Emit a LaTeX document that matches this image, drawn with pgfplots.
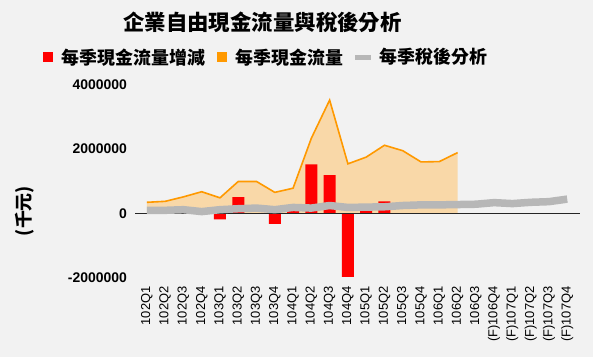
\documentclass[border=0pt]{standalone}
\usepackage{fontspec}
\setmainfont{Liberation Sans}
\newfontfamily\cjk{Noto Sans CJK TC}
\usepackage{pgfplots}
\pgfplotsset{compat=1.18}
\definecolor{bg}{HTML}{F2F2F2}
\definecolor{cfred}{HTML}{FF0000}
\definecolor{cforange}{HTML}{FF9900}
\definecolor{cfpeach}{HTML}{F9D8A8}
\definecolor{cfgray}{HTML}{B7B7B7}
\begin{document}
\begin{tikzpicture}[x=1bp,y=1bp]
\fill[bg] (0,0) rectangle (593,357);
\useasboundingbox (0,0) rectangle (593,357);
\node[font=\cjk\bfseries\fontsize{21.5}{22}\selectfont] at (262.5,335) {企業自由現金流量與稅後分析};
\node[font=\cjk\bfseries\fontsize{18}{18}\selectfont, rotate=90] at (25,146) {(千元)};
\begin{axis}[
  at={(135bp,79.7bp)}, anchor=south west,
  scale only axis, width=445bp, height=192.3bp,
  xmin=-0.65, xmax=23.7, ymin=-2000000, ymax=4000000,
  axis line style={draw=none}, major tick length=0pt,
  ytick={-2000000,0,2000000,4000000},
  scaled y ticks=false,
  yticklabel style={font=\bfseries\fontsize{14}{14}\selectfont, inner sep=0pt,
     /pgf/number format/.cd, fixed, 1000 sep={}, assume math mode=true},
  yticklabel shift=8bp,
  xtick={0,...,23},
  xticklabels={102Q1,102Q2,102Q3,102Q4,103Q1,103Q2,103Q3,103Q4,104Q1,104Q2,104Q3,104Q4,105Q1,105Q2,105Q3,105Q4,106Q1,106Q2,106Q3,(F)106Q4,(F)107Q1,(F)107Q2,(F)107Q3,(F)107Q4},
  xticklabel style={font=\fontsize{13}{13}\selectfont, rotate=90, anchor=east, inner sep=0pt},
  xticklabel shift=9bp,
  legend columns=3,
  legend style={at={(-0.2067,1.1456)}, anchor=west, draw=none, fill=none, inner sep=0pt,
     font=\cjk\bfseries\fontsize{18}{18}\selectfont,
     nodes={inner sep=0pt},
     /tikz/every even column/.append style={column sep=12bp}},
]
% area: quarterly cash flow
\addplot[fill=cfpeach, draw=none, forget plot] coordinates {
(0,340000) (1,370000) (2,510000) (3,670000) (4,480000) (5,990000) (6,990000) (7,650000)
(8,780000) (9,2340000) (10,3530000) (11,1540000) (12,1750000) (13,2120000) (14,1950000)
(15,1600000) (16,1610000) (17,1890000)} \closedcycle;
\addplot[cforange, line width=1.6bp, forget plot] coordinates {
(0,340000) (1,370000) (2,510000) (3,670000) (4,480000) (5,990000) (6,990000) (7,650000)
(8,780000) (9,2340000) (10,3530000) (11,1540000) (12,1750000) (13,2120000) (14,1950000)
(15,1600000) (16,1610000) (17,1890000)};
% bars: change
\addplot[ybar, bar width=12bp, fill=cfred, draw=none, forget plot] coordinates {
(1,30000) (2,140000) (3,120000) (4,-190000) (5,500000) (6,0) (7,-330000) (8,130000)
(9,1520000) (10,1190000) (11,-1990000) (12,210000) (13,370000)};
\draw[black!85, line width=0.9bp] (axis cs:-0.65,0) -- (axis cs:23.7,0);
% gray line: after-tax
\addplot[cfgray, line width=7.5bp, line join=round, forget plot] coordinates {
(0,90000) (1,90000) (2,110000) (3,50000) (4,110000) (5,140000) (6,160000) (7,110000)
(8,180000) (9,160000) (10,240000) (11,180000) (12,190000) (13,200000) (14,240000)
(15,260000) (16,260000) (17,270000) (18,280000) (19,330000) (20,300000) (21,340000)
(22,360000) (23,440000)};
\addlegendimage{legend image code/.code={\fill[cfred] (0bp,-4.5bp) rectangle (9bp,4.5bp); \path (18bp,0);}}
\addlegendentry{每季現金流量增減}
\addlegendimage{legend image code/.code={\fill[cforange] (0bp,-4.5bp) rectangle (9bp,4.5bp); \path (18bp,0);}}
\addlegendentry{每季現金流量}
\addlegendimage{legend image code/.code={\fill[cfgray] (0bp,-1.8bp) rectangle (15bp,1.8bp); \path (24bp,0);}}
\addlegendentry{每季稅後分析}
\end{axis}
\end{tikzpicture}
\end{document}
